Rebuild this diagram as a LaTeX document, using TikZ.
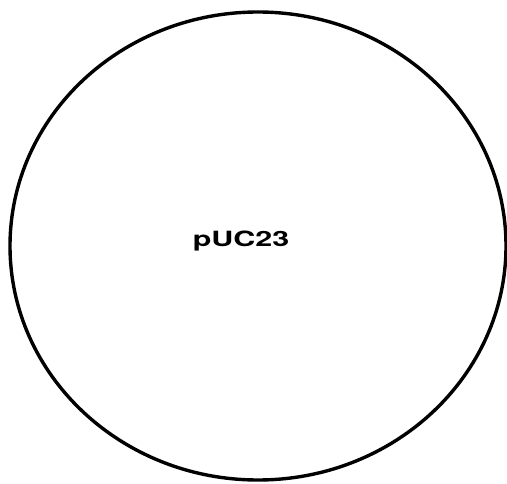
\documentclass[tikz,border=0pt]{standalone}
\usepackage{fontspec}
\usepackage{graphicx}
\newfontfamily\plasmidfont{TeX Gyre Heros}
\begin{document}
\begin{tikzpicture}[x=1pt,y=1pt,line join=round,line cap=round]
			\useasboundingbox (0,0) rectangle (507,483);
			\draw[line width=3.4pt] (258,237) ellipse[x radius=248,y radius=234];
			\node[anchor=base,inner sep=0pt] (name) at (241,236) {\plasmidfont\bfseries\fontsize{21}{21}\selectfont\scalebox{1.45}[1]{pUC23}};
	\end{tikzpicture}
\end{document}
